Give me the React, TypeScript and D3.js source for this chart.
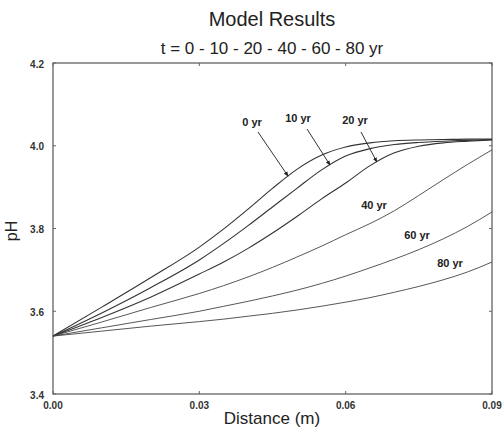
import React, { useEffect, useRef } from "react";
import * as d3 from "d3";

// Distance along the column (m)
const distance = [0, 0.01, 0.02, 0.03, 0.035, 0.04, 0.045, 0.05, 0.055, 0.06, 0.065, 0.07, 0.075, 0.08, 0.085, 0.09];

// Modelled pH profiles at each elapsed time
const pH0 = [3.54, 3.61, 3.681, 3.755, 3.799, 3.847, 3.897, 3.943, 3.977, 3.997, 4.007, 4.012, 4.014, 4.015, 4.016, 4.016];
const pH10 = [3.54, 3.596, 3.657, 3.724, 3.764, 3.807, 3.852, 3.897, 3.941, 3.975, 3.993, 4.003, 4.008, 4.011, 4.013, 4.015];
const pH20 = [3.54, 3.585, 3.634, 3.69, 3.719, 3.752, 3.789, 3.829, 3.871, 3.91, 3.952, 3.983, 3.999, 4.007, 4.011, 4.014];
const pH40 = [3.54, 3.574, 3.609, 3.643, 3.662, 3.683, 3.706, 3.731, 3.757, 3.785, 3.812, 3.843, 3.88, 3.918, 3.955, 3.99];
const pH60 = [3.54, 3.56, 3.58, 3.6, 3.612, 3.624, 3.637, 3.651, 3.667, 3.685, 3.705, 3.726, 3.749, 3.775, 3.805, 3.84];
const pH80 = [3.54, 3.552, 3.564, 3.575, 3.581, 3.588, 3.595, 3.603, 3.612, 3.622, 3.633, 3.646, 3.66, 3.676, 3.695, 3.719];

const seriesNames = ["0 yr", "10 yr", "20 yr", "40 yr", "60 yr", "80 yr"];
const seriesValues = [pH0, pH10, pH20, pH40, pH60, pH80];

const xTicks = [0, 0.03, 0.06, 0.09];
const yTicks = [3.4, 3.6, 3.8, 4.0, 4.2];

// Where the arrows of the first three labels touch their curves (distance, m)
const arrowTargets = [0.0482, 0.0568, 0.0664];

// Label layout: label centre, and the arrow tail for the arrowed ones
const labelLayout = [
  { x: 252, y: 122, tail: [258, 132] },
  { x: 298, y: 118, tail: [307, 129] },
  { x: 355, y: 120, tail: [361, 132] },
  { x: 374, y: 205, tail: null },
  { x: 417, y: 235, tail: null },
  { x: 450, y: 263, tail: null },
];

const W = 502;
const H = 433;
const M = { left: 53, right: 492, top: 63, bottom: 394 };
const FONT = "'Liberation Sans', Arial, Helvetica, sans-serif";

export default function App() {
  const ref = useRef<SVGSVGElement | null>(null);

  useEffect(() => {
    const svg = d3.select(ref.current);
    svg.selectAll("*").remove();

    const x = d3.scaleLinear().domain([0, 0.09]).range([M.left, M.right]);
    const y = d3.scaleLinear().domain([3.4, 4.2]).range([M.bottom, M.top]);

    svg.append("rect").attr("width", W).attr("height", H).attr("fill", "#fff");

    // Titles
    svg.append("text")
      .attr("x", 272).attr("y", 26).attr("text-anchor", "middle")
      .attr("font-family", FONT).attr("font-size", 20).attr("fill", "#222")
      .text("Model Results");
    svg.append("text")
      .attr("x", 272).attr("y", 54).attr("text-anchor", "middle")
      .attr("font-family", FONT).attr("font-size", 17).attr("fill", "#222")
      .text("t = 0 - 10 - 20 - 40 - 60 - 80 yr");

    // Frame
    svg.append("rect")
      .attr("x", M.left).attr("y", M.top)
      .attr("width", M.right - M.left).attr("height", M.bottom - M.top)
      .attr("fill", "none").attr("stroke", "#555").attr("stroke-width", 1.2);

    // Inward ticks on all four sides
    const tickG = svg.append("g").attr("stroke", "#666").attr("stroke-width", 1);
    yTicks.forEach((t) => {
      tickG.append("line").attr("x1", M.left).attr("x2", M.left + 3).attr("y1", y(t)).attr("y2", y(t));
      tickG.append("line").attr("x1", M.right).attr("x2", M.right - 3).attr("y1", y(t)).attr("y2", y(t));
    });
    xTicks.forEach((t) => {
      tickG.append("line").attr("x1", x(t)).attr("x2", x(t)).attr("y1", M.bottom).attr("y2", M.bottom - 3);
      tickG.append("line").attr("x1", x(t)).attr("x2", x(t)).attr("y1", M.top).attr("y2", M.top + 3);
    });

    // Tick labels
    const yFmt = d3.format(".1f");
    const xFmt = d3.format(".2f");
    svg.append("g").selectAll("text").data(yTicks).join("text")
      .attr("x", 44).attr("y", (d) => y(d) + 1)
      .attr("text-anchor", "end").attr("dominant-baseline", "central")
      .attr("font-family", FONT).attr("font-size", 10).attr("font-weight", "bold").attr("fill", "#333")
      .text((d) => yFmt(d));
    svg.append("g").selectAll("text").data(xTicks).join("text")
      .attr("x", (d) => x(d)).attr("y", 409)
      .attr("text-anchor", "middle")
      .attr("font-family", FONT).attr("font-size", 10).attr("font-weight", "bold").attr("fill", "#333")
      .text((d) => xFmt(d));

    // Axis titles
    svg.append("text")
      .attr("x", 272).attr("y", 424).attr("text-anchor", "middle")
      .attr("font-family", FONT).attr("font-size", 17).attr("fill", "#222")
      .text("Distance (m)");
    svg.append("text")
      .attr("transform", `translate(17,231) rotate(-90)`)
      .attr("text-anchor", "middle")
      .attr("font-family", FONT).attr("font-size", 16).attr("fill", "#222")
      .text("pH");

    // Curves
    const line = d3.line<number>()
      .x((_, i) => x(distance[i]))
      .y((v) => y(v))
      .curve(d3.curveMonotoneX);
    svg.append("g").selectAll("path").data(seriesValues).join("path")
      .attr("d", (d) => line(d))
      .attr("fill", "none")
      .attr("stroke", (_, i) => (i < 3 ? "#333" : "#444"))
      .attr("stroke-width", (_, i) => (i < 3 ? 1.1 : 0.9));

    // Arrowhead marker
    svg.append("defs").append("marker")
      .attr("id", "arrowhead")
      .attr("viewBox", "0 0 10 10").attr("refX", 9).attr("refY", 5)
      .attr("markerWidth", 5).attr("markerHeight", 5)
      .attr("orient", "auto")
      .append("path").attr("d", "M0,1 L10,5 L0,9 Z").attr("fill", "#222");

    const interp = (vals: number[], d: number) => {
      const i = d3.bisectRight(distance, d) - 1;
      const j = Math.min(i + 1, distance.length - 1);
      if (i === j) return vals[i];
      const f = (d - distance[i]) / (distance[j] - distance[i]);
      return vals[i] + f * (vals[j] - vals[i]);
    };

    // Curve labels and arrows
    seriesNames.forEach((name, i) => {
      const lay = labelLayout[i];
      svg.append("text")
        .attr("x", lay.x).attr("y", lay.y)
        .attr("text-anchor", "middle").attr("dominant-baseline", "central")
        .attr("font-family", FONT).attr("font-size", 11).attr("font-weight", "bold").attr("fill", "#222")
        .text(name);
      if (lay.tail && i < arrowTargets.length) {
        const d = arrowTargets[i];
        svg.append("line")
          .attr("x1", lay.tail[0]).attr("y1", lay.tail[1])
          .attr("x2", x(d)).attr("y2", y(interp(seriesValues[i], d)))
          .attr("stroke", "#333").attr("stroke-width", 1)
          .attr("marker-end", "url(#arrowhead)");
      }
    });
  }, []);

  return (
    <svg
      ref={ref}
      width={W}
      height={H}
      style={{ position: "fixed", left: 0, top: 0, display: "block" }}
    />
  );
}
